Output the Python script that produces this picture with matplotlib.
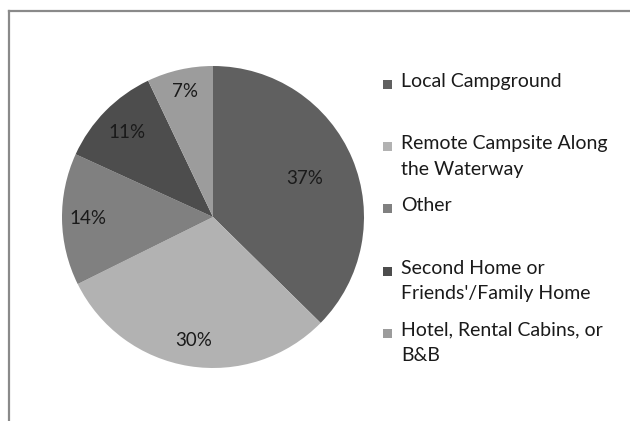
import matplotlib.pyplot as plt
from matplotlib.lines import Line2D
from matplotlib.patches import Rectangle
import numpy as np

plt.rcParams['font.family'] = ['Lato', 'DejaVu Sans']

labels = ['Local Campground', 'Remote Campsite Along\nthe Waterway', 'Other',
          'Second Home or\nFriends\'/Family Home', 'Hotel, Rental Cabins, or\nB&B']
shares = [37, 30, 14, 11, 7]
colors = ['#606060', '#b2b2b2', '#808080', '#4d4d4d', '#9c9c9c']
pct_dist = [0.66, 0.83, 0.83, 0.8, 0.85]

W, H = 630, 421
fig = plt.figure(figsize=(W / 100, H / 100), dpi=100)

# pie: centre (213, 217) px, radius 151 px
cx, cy, r = 213, 217, 151
ax = fig.add_axes([(cx - r) / W, (H - cy - r) / H, 2 * r / W, 2 * r / H])
wedges, _ = ax.pie(shares, colors=colors, startangle=90, counterclock=False,
                   radius=1, wedgeprops=dict(linewidth=0))
for w, d, s in zip(wedges, pct_dist, shares):
    ang = np.deg2rad((w.theta1 + w.theta2) / 2)
    ax.text(d * np.cos(ang), d * np.sin(ang), f'{s}%', ha='center', va='center',
            fontsize=13.5, color='#1a1a1a')
ax.set_xlim(-1, 1)
ax.set_ylim(-1, 1)
ax.set_aspect('equal')
ax.axis('off')

# legend drawn by hand
for i, (lab, col) in enumerate(zip(labels, colors)):
    yc = 84.5 + i * 62.2
    fig.patches.append(Rectangle((383 / W, 1 - (yc + 4.5) / H), 9 / W, 9 / H,
                                 transform=fig.transFigure, facecolor=col,
                                 edgecolor='none'))
    fig.text(401 / W, 1 - (yc - 11.5) / H, lab, ha='left', va='top',
             fontsize=14, color='#1a1a1a', linespacing=1.6)

# chart border (left and top)
fig.add_artist(Line2D([8.5 / W, 8.5 / W], [0, 1 - 10.5 / H], color='#8a8a8a', lw=1.6))
fig.add_artist(Line2D([8.5 / W, 1], [1 - 10.5 / H, 1 - 10.5 / H], color='#8a8a8a', lw=1.6))

fig.savefig('out.png', dpi=100)
